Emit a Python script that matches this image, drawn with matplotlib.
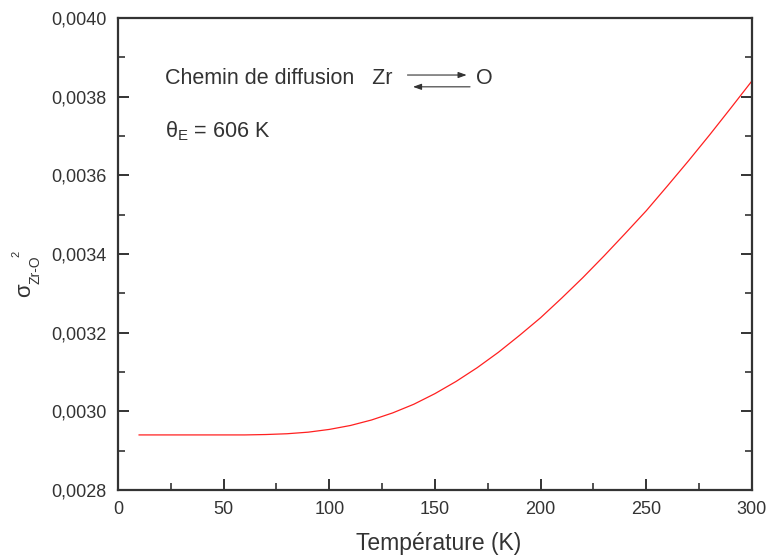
import matplotlib
matplotlib.use('Agg')
import matplotlib.pyplot as plt
from matplotlib.ticker import MultipleLocator, FuncFormatter

plt.rcParams['font.family'] = ['Liberation Sans', 'DejaVu Sans']
plt.rcParams['mathtext.fontset'] = 'custom'
plt.rcParams['mathtext.rm'] = 'Liberation Sans'
plt.rcParams['mathtext.it'] = 'Liberation Sans'
plt.rcParams['mathtext.default'] = 'regular'

# Température (K) / sigma^2 Zr-O
temperature = [10, 20, 30, 40, 50, 60, 70, 80, 90, 100, 110, 120, 130, 140, 150,
               160, 170, 180, 190, 200, 210, 220, 230, 240, 250, 260, 270, 280, 290, 300]
sigma2 = [0.002940, 0.002940, 0.002940, 0.002940, 0.002940, 0.002940, 0.002941,
          0.002943, 0.002947, 0.002954, 0.002964, 0.002978, 0.002996, 0.003018,
          0.003045, 0.003076, 0.003111, 0.003150, 0.003193, 0.003238, 0.003288,
          0.003340, 0.003395, 0.003452, 0.003510, 0.003573, 0.003637, 0.003703,
          0.003771, 0.003840]

W, H = 768, 557
fig = plt.figure(figsize=(W / 100, H / 100), dpi=100)
ax = fig.add_axes([0.1536, 0.1203, 0.8255, 0.8474])

ax.plot(temperature, sigma2, color='#ff2020', lw=0.9)

ax.set_xlim(0, 300)
ax.set_ylim(0.0028, 0.0040)
ax.xaxis.set_major_locator(MultipleLocator(50))
ax.xaxis.set_minor_locator(MultipleLocator(25))
ax.yaxis.set_major_locator(MultipleLocator(0.0002))
ax.yaxis.set_minor_locator(MultipleLocator(0.0001))
ax.yaxis.set_major_formatter(FuncFormatter(lambda v, p: f'{v:.4f}'.replace('.', ',')))

dark = '#333333'
for s in ax.spines.values():
    s.set_color(dark)
    s.set_linewidth(1.6)
ax.tick_params(which='both', direction='in', right=True, top=False, colors=dark,
               labelsize=13, labelcolor=dark)
ax.tick_params(which='major', length=8, width=1.4, pad=8)
ax.tick_params(which='minor', length=5, width=1.2)

ax.set_xlabel('Température (K)', fontsize=16.5, color=dark)
ax.xaxis.set_label_coords(0.505, -0.09)

# y label built from pieces: sigma, lowered subscript, raised exponent
def ylab(px, py, s, size):
    fig.text(px / W, 1 - py / H, s, fontsize=size, color=dark, rotation=90,
             ha='center', va='center')

ylab(25, 290, 'σ', 16)
ylab(35, 270, 'Zr-O', 10)
ylab(16.5, 254, '2', 8)

ax.text(22.2, 0.003845, 'Chemin de diffusion   Zr', fontsize=15.5, color=dark,
        va='center', ha='left')
ax.text(169.4, 0.003845, 'O', fontsize=15.5, color=dark, va='center', ha='left')
ax.annotate('', xy=(165, 0.003855), xytext=(137, 0.003855),
            arrowprops=dict(arrowstyle='-|>,head_length=0.5,head_width=0.18',
                            color=dark, lw=0.8, shrinkA=0, shrinkB=0))
ax.annotate('', xy=(139.6, 0.003825), xytext=(166.6, 0.003825),
            arrowprops=dict(arrowstyle='-|>,head_length=0.5,head_width=0.18',
                            color=dark, lw=0.8, shrinkA=0, shrinkB=0))
ax.text(22.2, 0.003713, r'$\theta_E$ = 606 K', fontsize=15.5, color=dark,
        va='center', ha='left')

fig.savefig('out.png', dpi=100)
